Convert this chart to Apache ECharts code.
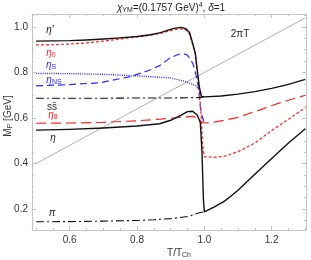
<!DOCTYPE html>
<html><head><meta charset="utf-8">
<script src="https://cdn.jsdelivr.net/npm/echarts@6/dist/echarts.min.js"></script>
<style>html,body{margin:0;padding:0;background:#fff}#c{width:311px;height:260px}</style>
</head><body><div id="c"></div>
<script>
// eta' (black solid, upper)
const tEtaP = [0.5,0.55,0.6,0.65,0.7,0.75,0.8,0.84,0.87,0.89,0.91,0.93,0.945,0.956,0.964,0.973,0.979,0.985,0.991,1.0,1.05,1.1,1.15,1.2,1.25,1.3];
const mEtaP = [0.938,0.939,0.940,0.943,0.947,0.952,0.958,0.966,0.975,0.985,0.994,0.998,0.992,0.976,0.935,0.886,0.81,0.738,0.695,0.693,0.697,0.705,0.716,0.73,0.748,0.77];
// eta_0 (red short dash)
const tEta0 = [0.5,0.55,0.6,0.65,0.7,0.75,0.8,0.84,0.87,0.89,0.91,0.93,0.945,0.956,0.964,0.973,0.979,0.985,0.991,0.995,1.0,1.03,1.06,1.1,1.15,1.2,1.25,1.3];
const mEta0 = [0.921,0.922,0.925,0.930,0.938,0.947,0.956,0.964,0.972,0.980,0.988,0.992,0.987,0.970,0.928,0.88,0.80,0.72,0.60,0.48,0.43,0.427,0.432,0.452,0.49,0.545,0.595,0.645];
// eta_S (blue dotted)
const tEtaS = [0.5,0.6,0.7,0.8,0.87,0.9,0.94,0.96,0.975,0.985,0.992,1.0];
const mEtaS = [0.796,0.795,0.792,0.785,0.779,0.776,0.762,0.752,0.74,0.722,0.70,0.69];
// eta_NS (blue long dash)
const tEtaNS = [0.5,0.6,0.69,0.78,0.837,0.867,0.896,0.92,0.935,0.948,0.958,0.967,0.975,0.982,0.988,0.993,1.0];
const mEtaNS = [0.741,0.747,0.755,0.782,0.81,0.83,0.862,0.878,0.884,0.878,0.862,0.835,0.79,0.738,0.65,0.61,0.58];
// s sbar (black dash-dot)
const tSS = [0.5,0.6,0.7,0.8,0.9,0.95,0.99,1.0];
const mSS = [0.687,0.687,0.687,0.688,0.688,0.689,0.690,0.693];
// eta_8 (red long dash)
const tEta8 = [0.5,0.6,0.7,0.8,0.87,0.9,0.94,0.965,0.98,0.99,1.0,1.03,1.06,1.1,1.133,1.17,1.2,1.25,1.3];
const mEta8 = [0.577,0.578,0.581,0.588,0.595,0.599,0.605,0.607,0.60,0.585,0.578,0.582,0.59,0.603,0.62,0.638,0.655,0.678,0.70];
// eta (black solid, lower)
const tEta = [0.5,0.6,0.7,0.8,0.867,0.9,0.93,0.95,0.965,0.979,0.988,0.993,0.997,1.0,1.03,1.06,1.083,1.1,1.15,1.2,1.25,1.3];
const mEta = [0.547,0.55,0.556,0.565,0.575,0.59,0.612,0.628,0.63,0.613,0.58,0.45,0.25,0.188,0.21,0.235,0.262,0.283,0.353,0.422,0.49,0.553];
// pi (black dash-dot)
const tPi = [0.5,0.6,0.7,0.8,0.85,0.9,0.95,0.97,0.985,1.0];
const mPi = [0.144,0.145,0.147,0.150,0.153,0.158,0.167,0.176,0.184,0.188];
// 2 pi T (gray line)
const tLine = [0.5,1.3];
const mLine = [0.4,1.04];

const pairs = (t,m)=>t.map((v,i)=>[v,m[i]]);
const chart = echarts.init(document.getElementById('c'));
const F = 'Liberation Sans';
const frame = '#c4c4c4';
function ln(name,t,m,color,type,width,z){
  return {name,type:'line',data:pairs(t,m),showSymbol:false,symbol:'none',z:z||2,
    lineStyle:{color,type,width,cap:'butt',join:'round'},animation:false};
}
const axisCommon = {
  axisLine:{show:true,lineStyle:{color:frame,width:1}},
  axisTick:{show:true,inside:true,length:4,lineStyle:{color:frame}},
  minorTick:{show:true,splitNumber:4,length:2,lineStyle:{color:frame}},
  splitLine:{show:false},
};
chart.setOption({
  animation:false,
  grid:{left:32,right:5,top:14,bottom:30,containLabel:false},
  xAxis:[
    Object.assign({type:'value',min:0.488,max:1.302,position:'bottom',
      axisLabel:{fontFamily:F,fontSize:10,color:'#333',margin:5,showMinLabel:false,showMaxLabel:false,
        formatter:v=>v.toFixed(1)}},axisCommon),
    Object.assign({type:'value',min:0.488,max:1.302,position:'top',axisLabel:{show:false}},axisCommon)
  ],
  yAxis:[
    Object.assign({type:'value',min:0.108,max:1.057,position:'left',
      axisLabel:{fontFamily:F,fontSize:10,color:'#333',margin:4,showMinLabel:false,showMaxLabel:false,
        formatter:v=>v.toFixed(1)}},axisCommon),
    Object.assign({type:'value',min:0.108,max:1.057,position:'right',axisLabel:{show:false}},axisCommon)
  ],
  series:[
    ln('2piT',tLine,mLine,'#999999','solid',0.8,1),
    ln('etaNS',tEtaNS,mEtaNS,'#2a2aff',[7,4],1.2),
    ln('etaS',tEtaS,mEtaS,'#2a2aff',[1,1.2],1.4),
    ln('eta8',tEta8,mEta8,'#ff2222',[10,5],1.2),
    ln('eta0',tEta0,mEta0,'#ff2222',[3,2],1.2),
    ln('ss',tSS,mSS,'#111111',[8,3,2,3],1.1),
    ln('pi',tPi,mPi,'#111111',[8,3,2,3],1.1),
    ln('etaP',tEtaP,mEtaP,'#111111','solid',1.4,3),
    ln('eta',tEta,mEta,'#111111','solid',1.4,3)
  ],
  graphic:[
    {type:'text',x:171,y:8,style:{text:'{i|χ}{s|YM}{n|=(0.1757 GeV)}{p|4}{n|, }{i|δ}{n|=1}',
      align:'center',verticalAlign:'middle',
      rich:{i:{fontFamily:F,fontSize:10,fontStyle:'italic',fill:'#222'},
        s:{fontFamily:F,fontSize:7,fill:'#222',padding:[5,0,0,0]},
        p:{fontFamily:F,fontSize:7,fill:'#222',padding:[0,0,5,0]},
        n:{fontFamily:F,fontSize:10,fill:'#222'}}}},
    {type:'text',x:50,y:30,style:{text:"η'",font:'italic 10px Liberation Sans',fill:'#222',align:'center',verticalAlign:'middle'}},
    {type:'text',x:51,y:53,style:{text:'{i|η}{s|0}',align:'center',verticalAlign:'middle',
      rich:{i:{font:'italic 10px Liberation Sans',fill:'#ff2222'},s:{font:'7px Liberation Sans',fill:'#ff2222',padding:[4,0,0,0]}}}},
    {type:'text',x:51,y:65,style:{text:'{i|η}{s|S}',align:'center',verticalAlign:'middle',
      rich:{i:{font:'italic 10px Liberation Sans',fill:'#2a2aff'},s:{font:'7px Liberation Sans',fill:'#2a2aff',padding:[4,0,0,0]}}}},
    {type:'text',x:54,y:80,style:{text:'{i|η}{s|NS}',align:'center',verticalAlign:'middle',
      rich:{i:{font:'italic 10px Liberation Sans',fill:'#2a2aff'},s:{font:'7px Liberation Sans',fill:'#2a2aff',padding:[4,0,0,0]}}}},
    {type:'text',x:52,y:107,style:{text:'ss\u0304',font:'10px Liberation Sans',fill:'#222',align:'center',verticalAlign:'middle'}},
    {type:'text',x:53,y:115,style:{text:'{i|η}{s|8}',align:'center',verticalAlign:'middle',
      rich:{i:{font:'italic 10px Liberation Sans',fill:'#ff2222'},s:{font:'7px Liberation Sans',fill:'#ff2222',padding:[4,0,0,0]}}}},
    {type:'text',x:53,y:138,style:{text:'η',font:'italic 10px Liberation Sans',fill:'#222',align:'center',verticalAlign:'middle'}},
    {type:'text',x:52,y:213,style:{text:'π',font:'italic 10px Liberation Sans',fill:'#222',align:'center',verticalAlign:'middle'}},
    {type:'text',x:240,y:34,style:{text:'2πT',font:'10px Liberation Sans',fill:'#222',align:'center',verticalAlign:'middle'}},
    {type:'text',x:179,y:253,style:{text:'{n|T/T}{s|Ch}',align:'center',verticalAlign:'middle',
      rich:{n:{font:'10px Liberation Sans',fill:'#333'},s:{font:'7px Liberation Sans',fill:'#333',padding:[5,0,0,0]}}}},
    {type:'text',x:8,y:116,rotation:Math.PI/2,style:{text:'{n|M}{s|P}{n| [GeV]}',align:'center',verticalAlign:'middle',
      rich:{n:{font:'10px Liberation Sans',fill:'#333'},s:{font:'7px Liberation Sans',fill:'#333',padding:[5,0,0,0]}}}}
  ]
});
</script></body></html>
